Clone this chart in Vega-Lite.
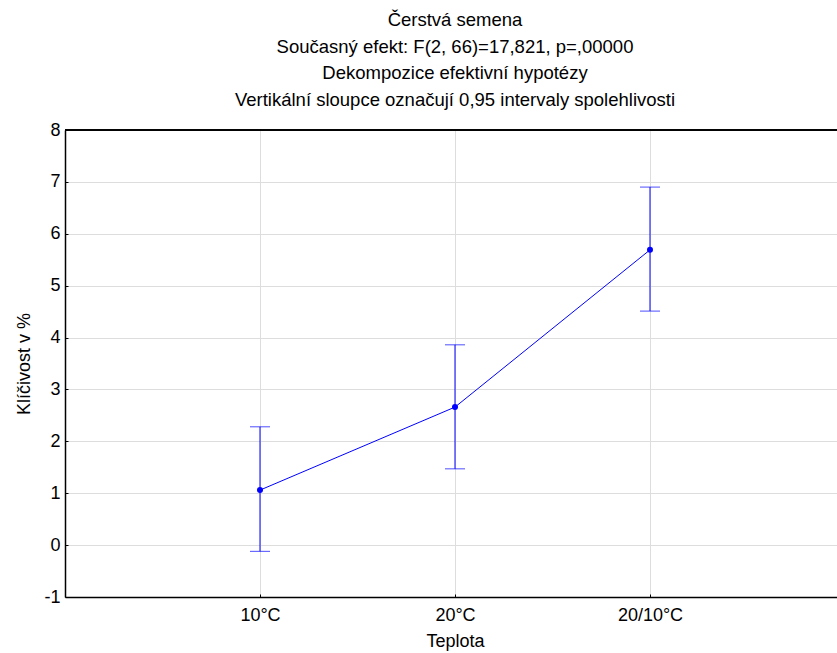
{
  "$schema": "https://vega.github.io/schema/vega-lite/v6.json",
  "width": 780,
  "height": 467,
  "autosize": {"type": "none"},
  "padding": {"left": 65, "top": 130, "right": -8, "bottom": 56},
  "background": "white",
  "config": {
    "view": {"stroke": null},
    "font": "Liberation Sans",
    "axis": {
      "domainColor": "black",
      "domainWidth": 1.5,
      "gridColor": "#dddddd",
      "gridWidth": 1,
      "tickColor": "black",
      "labelColor": "black",
      "titleColor": "black",
      "labelFontSize": 18,
      "titleFontSize": 18,
      "titleFontWeight": "normal",
      "labelFont": "Liberation Sans",
      "titleFont": "Liberation Sans"
    }
  },
  "title": {
    "text": ["Čerstvá semena", "Současný efekt: F(2, 66)=17,821, p=,00000", "Dekompozice efektivní hypotézy", "Vertikální sloupce označují 0,95 intervaly spolehlivosti"],
    "fontSize": 18.5,
    "fontWeight": "normal",
    "font": "Liberation Sans",
    "color": "black",
    "lineHeight": 26.5,
    "anchor": "middle",
    "offset": 12
  },
  "data": {
    "values": [
      {"Teplota": "10°C", "mean": 1.06, "lower": -0.12, "upper": 2.28},
      {"Teplota": "20°C", "mean": 2.66, "lower": 1.47, "upper": 3.86},
      {"Teplota": "20/10°C", "mean": 5.69, "lower": 4.51, "upper": 6.90}
    ]
  },
  "encoding": {
    "x": {
      "field": "Teplota",
      "type": "ordinal",
      "sort": ["10°C", "20°C", "20/10°C"],
      "scale": {"type": "point", "padding": 1},
      "axis": {"title": "Teplota", "labelAngle": 0, "grid": true, "tickSize": -3, "labelPadding": 12, "titlePadding": 8}
    }
  },
  "layer": [
    {
      "mark": {"type": "rule", "color": "black", "strokeWidth": 1.5},
      "encoding": {"x": null, "y": {"datum": 8, "type": "quantitative", "scale": {"domain": [-1, 8], "nice": false}}}
    },
    {
      "mark": {"type": "rule", "color": "#0000ff", "strokeWidth": 1},
      "encoding": {
        "y": {
          "field": "lower",
          "type": "quantitative",
          "scale": {"domain": [-1, 8], "nice": false},
          "axis": {"title": "Klíčivost v %", "values": [-1, 0, 1, 2, 3, 4, 5, 6, 7, 8], "labelExpr": "'' + datum.value", "grid": true, "tickSize": -3, "labelPadding": 8, "titlePadding": 10}
        },
        "y2": {"field": "upper"}
      }
    },
    {
      "mark": {"type": "tick", "color": "#0000ff", "size": 20, "thickness": 1, "orient": "horizontal"},
      "encoding": {"y": {"field": "lower", "type": "quantitative"}}
    },
    {
      "mark": {"type": "tick", "color": "#0000ff", "size": 20, "thickness": 1, "orient": "horizontal"},
      "encoding": {"y": {"field": "upper", "type": "quantitative"}}
    },
    {
      "mark": {"type": "line", "color": "#0000ff", "strokeWidth": 1},
      "encoding": {"y": {"field": "mean", "type": "quantitative"}}
    },
    {
      "mark": {"type": "circle", "color": "#0000ff", "size": 36, "opacity": 1},
      "encoding": {"y": {"field": "mean", "type": "quantitative"}}
    }
  ]
}
